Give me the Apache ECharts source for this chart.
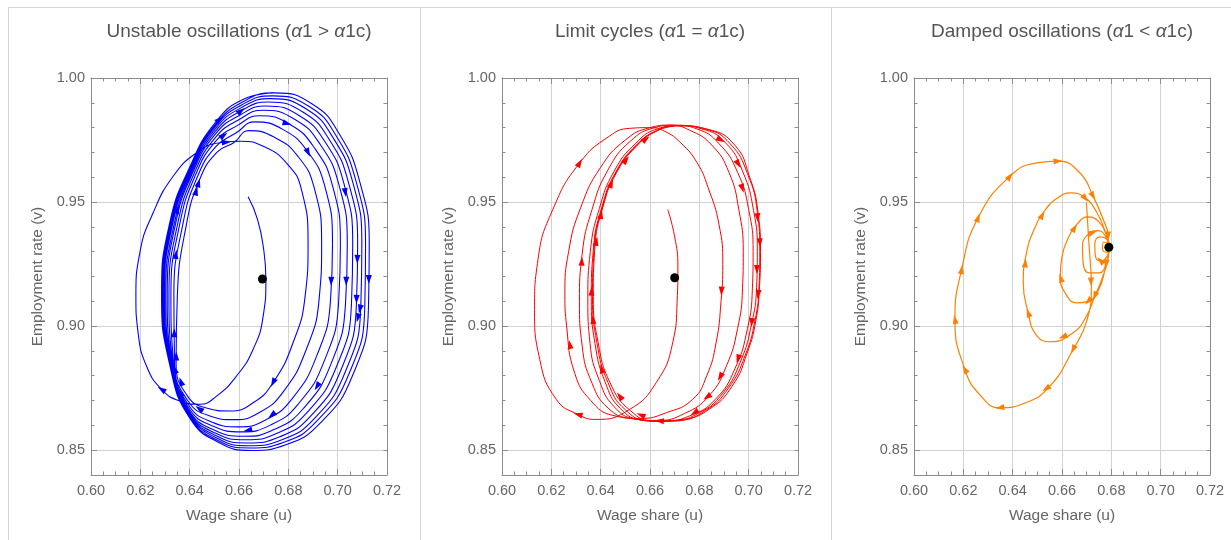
<!DOCTYPE html>
<html>
<head>
<meta charset="utf-8">
<script src="https://cdn.jsdelivr.net/npm/echarts@6/dist/echarts.min.js"></script>
<style>
  html, body { margin: 0; padding: 0; background: #fff; }
  #main { width: 1231px; height: 540px; }
</style>
</head>
<body>
<div id="main"></div>
<script>
// tick labels
var xTicks = [0.60, 0.62, 0.64, 0.66, 0.68, 0.70, 0.72];
var yTicks = [0.85, 0.90, 0.95, 1.00];

// panel titles ({i|..} = italic alpha)
var titles = [
  'Unstable oscillations ({i|α}1 > {i|α}1c)',
  'Limit cycles ({i|α}1 = {i|α}1c)',
  'Damped oscillations ({i|α}1 < {i|α}1c)'
];

// equilibrium points (u, v)
var dots = [[0.6695, 0.9190], [0.6700, 0.9195], [0.6790, 0.9318]];

// trajectory, alpha1 > alpha1c (wage share u, employment rate v)
var unstable = [
  [0.6637,0.9521],[0.6675,0.9430],[0.6700,0.9309],[0.6709,0.9188],[0.6698,0.9040],[0.6657,0.8906],[0.6590,0.8799],[0.6509,0.8718],[0.6441,0.8685],[0.6360,0.8698],[0.6286,0.8745],[0.6225,0.8839],[0.6191,0.8973],[0.6182,0.9121],[0.6198,0.9296],[0.6252,0.9457],[0.6333,0.9604],[0.6428,0.9699],[0.6522,0.9739],
  [0.6610,0.9745],[0.6698,0.9725],[0.6792,0.9658],[0.6853,0.9551],[0.6880,0.9330],[0.6868,0.9120],[0.6819,0.8933],[0.6738,0.8772],[0.6657,0.8691],[0.6563,0.8658],[0.6468,0.8670],[0.6390,0.8720],[0.6345,0.8850],[0.6350,0.9120],[0.6385,0.9400],[0.6440,0.9590],[0.6510,0.9700],[0.6580,0.9740],
  [0.6640,0.9788],[0.6742,0.9762],[0.6840,0.9683],[0.6905,0.9557],[0.6935,0.9330],[0.6925,0.9111],[0.6872,0.8904],[0.6780,0.8736],[0.6686,0.8654],[0.6582,0.8623],[0.6479,0.8639],[0.6392,0.8700],[0.6339,0.8848],[0.6336,0.9122],[0.6371,0.9404],[0.6431,0.9601],[0.6508,0.9725],[0.6589,0.9779],
  [0.6664,0.9823],[0.6779,0.9792],[0.6878,0.9704],[0.6948,0.9563],[0.6979,0.9330],[0.6971,0.9104],[0.6915,0.8880],[0.6815,0.8707],[0.6710,0.8623],[0.6598,0.8594],[0.6489,0.8614],[0.6394,0.8684],[0.6335,0.8846],[0.6324,0.9124],[0.6359,0.9408],[0.6424,0.9610],[0.6506,0.9746],[0.6596,0.9810],
  [0.6682,0.9848],[0.6805,0.9814],[0.6906,0.9718],[0.6979,0.9566],[0.7011,0.9330],[0.7004,0.9099],[0.6947,0.8863],[0.6840,0.8686],[0.6727,0.8601],[0.6609,0.8574],[0.6496,0.8596],[0.6395,0.8672],[0.6332,0.8845],[0.6316,0.9125],[0.6351,0.9411],[0.6419,0.9617],[0.6505,0.9761],[0.6601,0.9833],
  [0.6696,0.9870],[0.6827,0.9833],[0.6930,0.9731],[0.7005,0.9570],[0.7039,0.9330],[0.7032,0.9094],[0.6973,0.8848],[0.6861,0.8668],[0.6742,0.8583],[0.6619,0.8556],[0.6501,0.8580],[0.6396,0.8662],[0.6329,0.8844],[0.6309,0.9126],[0.6343,0.9413],[0.6414,0.9622],[0.6504,0.9774],[0.6606,0.9852],
  [0.6709,0.9887],[0.6845,0.9848],[0.6950,0.9741],[0.7026,0.9572],[0.7061,0.9330],[0.7056,0.9091],[0.6995,0.8836],[0.6878,0.8654],[0.6754,0.8568],[0.6627,0.8542],[0.6506,0.8568],[0.6397,0.8654],[0.6327,0.8843],[0.6303,0.9127],[0.6338,0.9415],[0.6411,0.9627],[0.6503,0.9784],[0.6609,0.9868],
  [0.6719,0.9903],[0.6862,0.9861],[0.6967,0.9750],[0.7045,0.9574],[0.7081,0.9330],[0.7076,0.9088],[0.7014,0.8825],[0.6894,0.8641],[0.6765,0.8554],[0.6633,0.8529],[0.6510,0.8557],[0.6398,0.8647],[0.6325,0.8842],[0.6298,0.9128],[0.6332,0.9416],[0.6408,0.9631],[0.6502,0.9793],[0.6612,0.9882],
  [0.6729,0.9917],[0.6876,0.9873],[0.6982,0.9758],[0.7062,0.9577],[0.7098,0.9330],[0.7094,0.9085],[0.7031,0.8816],[0.6907,0.8629],[0.6774,0.8542],[0.6640,0.8518],[0.6514,0.8547],[0.6399,0.8641],[0.6323,0.8841],[0.6294,0.9129],[0.6328,0.9418],[0.6405,0.9634],[0.6501,0.9801],[0.6615,0.9894],
  [0.6737,0.9928],[0.6888,0.9883],[0.6995,0.9765],[0.7076,0.9578],[0.7113,0.9330],[0.7110,0.9082],[0.7046,0.8808],[0.6918,0.8620],[0.6782,0.8532],[0.6645,0.8509],[0.6517,0.8538],[0.6399,0.8635],[0.6321,0.8841],[0.6290,0.9129],[0.6324,0.9419],[0.6402,0.9637],[0.6501,0.9808],[0.6618,0.9905],
  [0.6745,0.9940],[0.6900,0.9893],[0.7008,0.9772],[0.7090,0.9580],[0.7128,0.9330],[0.7125,0.9080],[0.7060,0.8800],[0.6930,0.8610],[0.6790,0.8522],[0.6650,0.8499],[0.6520,0.8530],[0.6400,0.8630],[0.6320,0.8840],[0.6286,0.9130],[0.6320,0.9420],[0.6400,0.9640],[0.6500,0.9815],[0.6620,0.9915],[0.6740,0.9940]
];

// trajectory, alpha1 = alpha1c
var limitCycles = [
  [0.6672,0.9470],[0.6700,0.9360],[0.6713,0.9242],[0.6710,0.9100],[0.6692,0.8933],[0.6625,0.8772],[0.6517,0.8664],[0.6382,0.8624],[0.6308,0.8644],[0.6220,0.8705],[0.6153,0.8866],[0.6132,0.9067],[0.6146,0.9269],[0.6206,0.9470],[0.6315,0.9658],[0.6436,0.9766],[0.6517,0.9797],
  [0.6600,0.9800],[0.6660,0.9785],[0.6725,0.9738],[0.6790,0.9660],[0.6835,0.9560],[0.6880,0.9408],[0.6895,0.9249],[0.6888,0.9100],[0.6868,0.8933],[0.6830,0.8800],[0.6773,0.8705],[0.6666,0.8651],[0.6560,0.8628],[0.6450,0.8640],[0.6360,0.8700],[0.6295,0.8810],[0.6262,0.9000],[0.6255,0.9130],[0.6270,0.9300],[0.6320,0.9480],[0.6400,0.9640],[0.6500,0.9750],[0.6600,0.9800],[0.6680,0.9810],
  [0.6760,0.9790],[0.6850,0.9730],[0.6920,0.9620],[0.6960,0.9470],[0.6978,0.9300],[0.6975,0.9150],[0.6955,0.8990],[0.6910,0.8840],[0.6840,0.8720],[0.6740,0.8648],[0.6630,0.8620],[0.6520,0.8628],[0.6430,0.8670],[0.6365,0.8770],[0.6325,0.8920],[0.6314,0.9100],[0.6325,0.9290],[0.6365,0.9470],[0.6430,0.9630],[0.6520,0.9745],[0.6620,0.9800],[0.6700,0.9810],
  [0.6790,0.9795],[0.6880,0.9735],[0.6955,0.9620],[0.7000,0.9470],[0.7018,0.9300],[0.7015,0.9150],[0.6995,0.8990],[0.6945,0.8830],[0.6865,0.8705],[0.6760,0.8638],[0.6650,0.8617],[0.6540,0.8626],[0.6455,0.8675],[0.6395,0.8780],[0.6357,0.8930],[0.6348,0.9110],[0.6358,0.9300],[0.6395,0.9475],[0.6455,0.9625],[0.6540,0.9735],[0.6630,0.9795],[0.6715,0.9808],
  [0.6810,0.9795],[0.6905,0.9740],[0.6975,0.9625],[0.7020,0.9465],[0.7035,0.9300],[0.7032,0.9155],[0.7012,0.9010],[0.6968,0.8860],[0.6895,0.8730],[0.6795,0.8648],[0.6680,0.8617],[0.6570,0.8622],[0.6480,0.8668],[0.6418,0.8775],[0.6377,0.8930],[0.6362,0.9115],[0.6370,0.9305],[0.6405,0.9480],[0.6462,0.9622],[0.6545,0.9730],[0.6632,0.9790],[0.6715,0.9808],
  [0.6830,0.9793],[0.6925,0.9735],[0.6995,0.9615],[0.7035,0.9460],[0.7045,0.9300],[0.7042,0.9160],[0.7025,0.9020],[0.6985,0.8880],[0.6918,0.8750],[0.6825,0.8660],[0.6710,0.8620],[0.6600,0.8618],[0.6500,0.8663],[0.6430,0.8772],[0.6385,0.8932],[0.6367,0.9118],[0.6373,0.9307],[0.6408,0.9482],[0.6463,0.9620],[0.6544,0.9727],[0.6628,0.9788],[0.6712,0.9807],
  [0.6840,0.9792],[0.6945,0.9728],[0.7002,0.9606],[0.7038,0.9458],[0.7048,0.9297],[0.7044,0.9161],[0.7030,0.9027],[0.6994,0.8892],[0.6933,0.8758],[0.6840,0.8665],[0.6730,0.8624],[0.6620,0.8617],[0.6520,0.8660],[0.6438,0.8772],[0.6390,0.8933],[0.6370,0.9121],[0.6376,0.9309],[0.6410,0.9483],[0.6464,0.9618],[0.6545,0.9725],[0.6626,0.9786],[0.6700,0.9806]
];

// trajectory, alpha1 < alpha1c
var damped = [
  [0.6699,0.9497],[0.6710,0.9322],[0.6719,0.9160],[0.6700,0.9020],[0.6645,0.8906],[0.6551,0.8758],[0.6450,0.8690],[0.6348,0.8671],[0.6270,0.8720],[0.6206,0.8826],[0.6166,0.9027],[0.6193,0.9228],[0.6260,0.9437],[0.6389,0.9604],[0.6497,0.9658],[0.6584,0.9665],[0.6672,0.9618],[0.6726,0.9524],[0.6767,0.9430],[0.6787,0.9363],[0.6788,0.9290],
  [0.6766,0.9202],[0.6733,0.9121],[0.6699,0.9040],[0.6645,0.8973],[0.6551,0.8937],[0.6495,0.8965],[0.6463,0.9054],[0.6443,0.9175],[0.6455,0.9290],[0.6485,0.9385],[0.6530,0.9465],[0.6580,0.9515],[0.6635,0.9537],[0.6690,0.9520],[0.6740,0.9460],[0.6775,0.9380],[0.6788,0.9310],
  [0.6775,0.9230],[0.6745,0.9140],[0.6706,0.9100],[0.6659,0.9094],[0.6615,0.9130],[0.6593,0.9200],[0.6600,0.9280],[0.6625,0.9355],[0.6660,0.9410],[0.6705,0.9440],[0.6750,0.9420],[0.6780,0.9365],[0.6790,0.9310],
  [0.6780,0.9255],[0.6750,0.9215],[0.6710,0.9215],[0.6685,0.9260],[0.6683,0.9320],[0.6705,0.9370],[0.6745,0.9385],[0.6778,0.9360],[0.6792,0.9318],
  [0.6782,0.9280],[0.6758,0.9262],[0.6735,0.9285],[0.6733,0.9330],[0.6755,0.9360],[0.6782,0.9350],[0.6793,0.9320],
  [0.6780,0.9298],[0.6764,0.9310],[0.6768,0.9338],[0.6788,0.9335],[0.6792,0.9320]
];

// arrowhead positions (direction taken from the trajectory)
var unstableArrows = [
  [0.6610,0.9866],[0.6522,0.9833],[0.6536,0.9772],[0.6549,0.9739],[0.6792,0.9806],[0.6866,0.9692],[0.7021,0.9537],
  [0.6434,0.9578],[0.6428,0.9544],[0.6353,0.9470],[0.6347,0.9289],[0.6961,0.9181],[0.7028,0.9181],[0.7076,0.9269],
  [0.7123,0.9188],[0.7076,0.9108],[0.7096,0.9067],[0.7078,0.9034],[0.6340,0.8973],[0.6374,0.8879],[0.6340,0.8826],
  [0.6367,0.8778],[0.6360,0.8732],[0.6441,0.8671],[0.6286,0.8745],[0.6738,0.8772],[0.6914,0.8758],[0.6725,0.8651],[0.6637,0.8573]
];
var limitArrows = [
  [0.6315,0.9658],[0.6321,0.9262],[0.6274,0.8926],[0.6308,0.8644],[0.6444,0.9575],[0.6510,0.9665],[0.6591,0.9745],
  [0.6402,0.9450],[0.6382,0.9342],[0.6368,0.9027],[0.6362,0.9141],[0.6396,0.8826],[0.6477,0.8718],[0.6564,0.8644],
  [0.6638,0.8617],[0.6780,0.8651],[0.6828,0.8718],[0.6868,0.8805],[0.6888,0.9141],[0.6962,0.9551],[0.6962,0.8866],
  [0.7016,0.9014],[0.7036,0.9128],[0.7036,0.9228],[0.7050,0.9336],[0.7036,0.9437],[0.6955,0.9651],[0.6888,0.9752]
];
var dampedArrows = [
  [0.6645,0.8906],[0.6537,0.8745],[0.6348,0.8671],[0.6206,0.8826],[0.6166,0.9027],[0.6193,0.9228],[0.6260,0.9437],
  [0.6389,0.9604],[0.6584,0.9665],[0.6726,0.9524],[0.6719,0.9178],[0.6706,0.9523],[0.6517,0.9450],[0.6450,0.9255],
  [0.6463,0.9054],[0.6605,0.8953],[0.6733,0.9121],[0.6652,0.9396],[0.6598,0.9195],[0.6706,0.9100],[0.6725,0.9376],
  [0.6740,0.9249],[0.6787,0.9249],[0.6807,0.9309],[0.6794,0.9363]
];

var trajectories = [unstable, limitCycles, damped];
var arrowSets = [unstableArrows, limitArrows, dampedArrows];
var colors = ['#0000ff', '#ff0000', '#ff8000'];
var widths = [1.1, 1, 1.2];

var FONT = '"Liberation Sans", Arial, sans-serif';
var gridLefts = [91, 502, 914];
var GRID_W = 296, GRID_TOP = 78, GRID_H = 397;
var frameColor = '#8c8c8c';
var gridColor = '#d2d2d2';
var labelColor = '#666';

var chart = echarts.init(document.getElementById('main'));

var grids = [], xAxes = [], yAxes = [], series = [], graphics = [];

for (var i = 0; i < 3; i++) {
  grids.push({ left: gridLefts[i], top: GRID_TOP, width: GRID_W, height: GRID_H });

  // bottom axis: labels, gridlines, ticks
  xAxes.push({
    type: 'value', gridIndex: i, position: 'bottom', min: 0.60, max: 0.72, interval: 0.02,
    name: 'Wage share (u)', nameLocation: 'middle', nameGap: 33,
    nameTextStyle: { fontFamily: FONT, fontSize: 15.5, color: labelColor },
    axisLine: { show: true, lineStyle: { color: frameColor, width: 1 } },
    axisTick: { show: true, inside: true, length: 6, lineStyle: { color: frameColor } },
    minorTick: { show: true, splitNumber: 4, length: 3.5, lineStyle: { color: frameColor } },
    axisLabel: { fontFamily: FONT, fontSize: 14.5, color: labelColor, margin: 8,
                 formatter: function (v) { return v.toFixed(2); } },
    splitLine: { show: true, lineStyle: { color: gridColor, width: 1 } }
  });
  // top frame
  xAxes.push({
    type: 'value', gridIndex: i, position: 'top', min: 0.60, max: 0.72, interval: 0.02,
    axisLine: { show: true, lineStyle: { color: frameColor, width: 1 } },
    axisTick: { show: true, inside: true, length: 6, lineStyle: { color: frameColor } },
    minorTick: { show: true, splitNumber: 4, length: 3.5, lineStyle: { color: frameColor } },
    axisLabel: { show: false }, splitLine: { show: false }
  });

  // left axis: labels, gridlines, major ticks
  yAxes.push({
    type: 'value', gridIndex: i, position: 'left', min: 0.84, max: 1.00,
    name: 'Employment rate (v)', nameLocation: 'middle', nameGap: 45, nameRotate: 90,
    nameTextStyle: { fontFamily: FONT, fontSize: 15.5, color: labelColor },
    axisLine: { show: true, lineStyle: { color: frameColor, width: 1 } },
    axisTick: { show: true, inside: true, length: 6, customValues: yTicks, lineStyle: { color: frameColor } },
    axisLabel: { fontFamily: FONT, fontSize: 14.5, color: labelColor, margin: 6, customValues: yTicks,
                 formatter: function (v) { return v.toFixed(2); } },
    splitLine: { show: true, lineStyle: { color: gridColor, width: 1 } }
  });
  // left minor ticks
  yAxes.push({
    type: 'value', gridIndex: i, position: 'left', min: 0.84, max: 1.00, interval: 0.01,
    axisLine: { show: false },
    axisTick: { show: true, inside: true, length: 3.5, lineStyle: { color: frameColor } },
    axisLabel: { show: false }, splitLine: { show: false }
  });
  // right frame
  yAxes.push({
    type: 'value', gridIndex: i, position: 'right', min: 0.84, max: 1.00, interval: 0.01,
    axisLine: { show: true, lineStyle: { color: frameColor, width: 1 } },
    axisTick: { show: true, inside: true, length: 3.5, lineStyle: { color: frameColor } },
    axisLabel: { show: false }, splitLine: { show: false }
  });

  series.push({
    id: 'traj' + i, type: 'line', xAxisIndex: 2 * i, yAxisIndex: 3 * i,
    data: trajectories[i], symbol: 'none', smooth: 0.5, z: 3, silent: true,
    lineStyle: { color: colors[i], width: widths[i] }
  });
  series.push({
    id: 'arrows' + i, type: 'scatter', xAxisIndex: 2 * i, yAxisIndex: 3 * i,
    data: [], symbol: 'triangle', symbolSize: [6, 9], z: 4, silent: true,
    itemStyle: { color: colors[i], opacity: 1 }
  });
  series.push({
    id: 'dot' + i, type: 'scatter', xAxisIndex: 2 * i, yAxisIndex: 3 * i,
    data: [dots[i]], symbol: 'circle', symbolSize: 9, z: 5, silent: true,
    itemStyle: { color: '#000', opacity: 1 }
  });

  graphics.push({
    type: 'text', x: gridLefts[i] + GRID_W / 2, y: 22,
    style: {
      text: titles[i], align: 'center', verticalAlign: 'top',
      fontFamily: FONT, fontSize: 19, fill: '#555',
      rich: { i: { fontFamily: FONT, fontSize: 19, fontStyle: 'italic', fill: '#555' } }
    }
  });
}

// panel frame lines
var borderColor = '#d4d4d4';
graphics.push({ type: 'line', shape: { x1: 8, y1: 7.5, x2: 1231, y2: 7.5 }, style: { stroke: borderColor, lineWidth: 1 } });
[8.5, 420.5, 831.5].forEach(function (x) {
  graphics.push({ type: 'line', shape: { x1: x, y1: 7.5, x2: x, y2: 540 }, style: { stroke: borderColor, lineWidth: 1 } });
});

chart.setOption({
  animation: false,
  backgroundColor: '#fff',
  grid: grids, xAxis: xAxes, yAxis: yAxes, series: series, graphic: graphics
});

// orient each arrowhead along the nearest piece of its trajectory
function arrowItems(i) {
  var finder = { xAxisIndex: 2 * i, yAxisIndex: 3 * i };
  var px = trajectories[i].map(function (p) { return chart.convertToPixel(finder, p); });
  return arrowSets[i].map(function (a) {
    var q = chart.convertToPixel(finder, a);
    var best = null;
    for (var k = 0; k < px.length - 1; k++) {
      var x1 = px[k][0], y1 = px[k][1], dx = px[k + 1][0] - x1, dy = px[k + 1][1] - y1;
      var len = dx * dx + dy * dy || 1;
      var t = ((q[0] - x1) * dx + (q[1] - y1) * dy) / len;
      t = Math.max(0, Math.min(1, t));
      var cx = x1 + t * dx, cy = y1 + t * dy;
      var d = (q[0] - cx) * (q[0] - cx) + (q[1] - cy) * (q[1] - cy);
      if (!best || d < best.d) best = { d: d, cx: cx, cy: cy, dx: dx, dy: dy };
    }
    var ang = Math.atan2(-best.dy, best.dx) * 180 / Math.PI - 90;
    return { value: chart.convertFromPixel(finder, [best.cx, best.cy]), symbolRotate: ang };
  });
}

chart.setOption({
  series: [0, 1, 2].map(function (i) { return { id: 'arrows' + i, data: arrowItems(i) }; })
});
</script>
</body>
</html>
